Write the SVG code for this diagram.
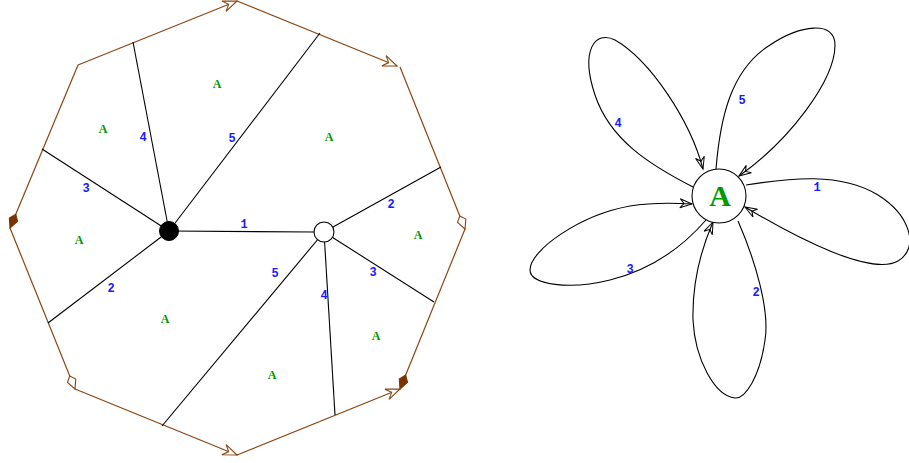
<svg xmlns="http://www.w3.org/2000/svg" width="909" height="463" viewBox="0 0 909 463">
<style>
.edge{stroke:#8b4513;stroke-width:1.2;fill:none}
.spoke{stroke:#000;stroke-width:1.1;fill:none}
.loop{stroke:#000;stroke-width:1.1;fill:none;marker-end:url(#blk)}
.num{font-family:"Liberation Mono","DejaVu Sans Mono",monospace;font-weight:bold;font-size:12px;fill:#1a1aff;text-anchor:middle}
.face{font-family:"Liberation Serif","DejaVu Serif",serif;font-weight:bold;font-size:12px;fill:#009900;text-anchor:middle}
</style>
<defs>
<marker id="openA" markerUnits="userSpaceOnUse" viewBox="-15 -7 17 14" refX="0" refY="0" markerWidth="17" markerHeight="14" orient="auto" overflow="visible">
<path d="M0,0 L-14,-5.5 L-9,0 L-14,5.5 Z" fill="#fff" stroke="#8b4513" stroke-width="1.1" stroke-linejoin="miter"/>
</marker>
<marker id="openK" markerUnits="userSpaceOnUse" viewBox="-16 -6 18 12" refX="0" refY="0" markerWidth="18" markerHeight="12" orient="auto" overflow="visible">
<path d="M0,0 L-9,-4.5 L-14,0 L-9,4.5 Z" fill="#fff" stroke="#8b4513" stroke-width="1.1"/>
</marker>
<marker id="fillK" markerUnits="userSpaceOnUse" viewBox="-16 -6 18 12" refX="0" refY="0" markerWidth="18" markerHeight="12" orient="auto" overflow="visible">
<path d="M0,0 L-9,-4.5 L-15,0 L-9,4.5 Z" fill="#7a3300" stroke="#7a3300" stroke-width="1"/>
</marker>
<marker id="blk" markerUnits="userSpaceOnUse" viewBox="-14 -6 16 12" refX="0" refY="0" markerWidth="16" markerHeight="12" orient="auto" overflow="visible">
<path d="M0,0 L-12,-4.5 L-8,0 L-12,4.5 Z" fill="none" stroke="#000" stroke-width="1"/>
</marker>
</defs>

<g id="boundary">
<line class="edge" x1="78" y1="65" x2="237" y2="1" marker-end="url(#openA)"/>
<line class="edge" x1="237" y1="1" x2="397" y2="66" marker-end="url(#openA)"/>
<line class="edge" x1="400" y1="67" x2="465" y2="229" marker-end="url(#openK)"/>
<line class="edge" x1="465" y1="229" x2="400" y2="389" marker-end="url(#fillK)"/>
<line class="edge" x1="237" y1="455" x2="400" y2="389" marker-end="url(#openA)"/>
<line class="edge" x1="75" y1="389" x2="237" y2="455" marker-end="url(#openA)"/>
<line class="edge" x1="10" y1="228" x2="75" y2="389" marker-end="url(#openK)"/>
<line class="edge" x1="78" y1="65" x2="10" y2="228" marker-end="url(#fillK)"/>
</g>

<g id="connectors">
<line class="spoke" x1="169" y1="231" x2="133" y2="42"/>
<line class="spoke" x1="169" y1="231" x2="320" y2="33"/>
<line class="spoke" x1="169" y1="231" x2="42" y2="149"/>
<line class="spoke" x1="169" y1="231" x2="48" y2="323"/>
<line class="spoke" x1="169" y1="231" x2="314" y2="232"/>
<line class="spoke" x1="324" y1="232" x2="441" y2="167"/>
<line class="spoke" x1="324" y1="232" x2="434" y2="302"/>
<line class="spoke" x1="324" y1="232" x2="335" y2="415"/>
<line class="spoke" x1="324" y1="232" x2="162" y2="426"/>
<path class="loop" d="M693,187 C650,165 610,140 595,95 C580,50 595,30 615,40 C650,60 690,120 703,169"/>
<path class="loop" d="M716,169 C720,120 730,70 770,45 C800,25 835,20 835,45 C835,80 790,140 739,176"/>
<path class="loop" d="M746,185 C790,178 840,172 878,195 C910,215 920,248 898,261 C872,276 800,240 745,207"/>
<path class="loop" d="M738,221 C755,260 770,310 765,340 C760,377 745,399 735,398 C715,396 695,360 693,320 C692,280 703,245 713,222"/>
<path class="loop" d="M706,220 C680,250 650,270 610,280 C570,290 530,285 530,270 C530,250 580,215 630,206 C655,202 675,203 692,204"/>
</g>

<g id="labels">
<text class="num" x="143" y="141">4</text>
<text class="num" x="232" y="142">5</text>
<text class="num" x="86" y="192">3</text>
<text class="num" x="111" y="292">2</text>
<text class="num" x="244" y="228">1</text>
<text class="num" x="391" y="208">2</text>
<text class="num" x="373" y="276">3</text>
<text class="num" x="324" y="299">4</text>
<text class="num" x="275" y="277">5</text>
<text class="num" x="618" y="127">4</text>
<text class="num" x="742" y="104">5</text>
<text class="num" x="817" y="191">1</text>
<text class="num" x="756" y="296">2</text>
<text class="num" x="630" y="273">3</text>
</g>

<g id="faces">
<text class="face" x="217" y="88">A</text>
<text class="face" x="103" y="133">A</text>
<text class="face" x="329" y="141">A</text>
<text class="face" x="79" y="244">A</text>
<text class="face" x="418" y="239">A</text>
<text class="face" x="165" y="323">A</text>
<text class="face" x="376" y="340">A</text>
<text class="face" x="272" y="379">A</text>
</g>

<g id="nodeBlack"><circle cx="169" cy="231" r="9.5" fill="#000" stroke="#000"/></g>
<g id="nodeWhite"><circle cx="324" cy="232" r="10" fill="#fff" stroke="#000" stroke-width="1.1"/></g>
<g id="nodeA">
<circle cx="719" cy="196" r="27" fill="#fff" stroke="#000" stroke-width="1.1"/>
<text x="720" y="206" font-family="Liberation Serif, DejaVu Serif, serif" font-weight="bold" font-size="30" fill="#009900" text-anchor="middle">A</text>
</g>
</svg>
